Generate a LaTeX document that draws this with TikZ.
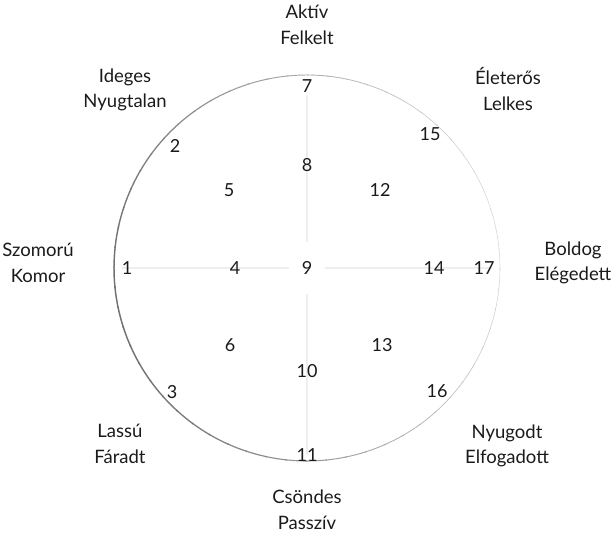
\documentclass[tikz,border=0pt]{standalone}
\usepackage{fontspec}
\setmainfont{Lato}
\usetikzlibrary{positioning,backgrounds}
\definecolor{axis}{HTML}{EEEEEE}
\definecolor{ink}{HTML}{1A1A1A}

\begin{document}
\begin{tikzpicture}[x=1pt, y=-1pt,
      num/.style={text=ink, font=\fontsize{18}{21}\selectfont, inner sep=1pt},
      mood/.style={text=ink, align=center, font=\fontsize{18.5}{25.5}\selectfont, inner sep=1pt},
      axisline/.style={draw=axis, line width=1.4pt}]
    \useasboundingbox (0,0) rectangle (614,535);
    % rim, darker on the upper left
    \foreach \a in {0,6,...,354} {
      \pgfmathsetmacro\k{36+20*cos(\a-165)}
      \pgfmathsetmacro\w{1.0+0.45*cos(\a-165)}
      \draw[black!\k, line width=\w pt] (307,268) ++(\a:193) arc[start angle=\a, end angle=\a+6.5, radius=193];
    }
    % numbers
    \node[num] (n7) at (307,86) {7};
    \node[num] (n8) at (307,165) {8};
    \node[num, minimum width=36pt, minimum height=52pt] (n9) at (307,268) {9};
    \node[num] (n10) at (307,371) {10};
    \node[num] (n11) at (307,455) {11};
    \node[num] (n1) at (127,268) {1};
    \node[num] (n4) at (235,268) {4};
    \node[num] (n14) at (434,268) {14};
    \node[num] (n17) at (484,268) {17};
    \node[num] (n2) at (175,146) {2};
    \node[num] (n5) at (229,190) {5};
    \node[num] (n12) at (380,190) {12};
    \node[num] (n15) at (430,134) {15};
    \node[num] (n6) at (230,345) {6};
    \node[num] (n13) at (382,345) {13};
    \node[num] (n3) at (172,392) {3};
    \node[num] (n16) at (437,391) {16};
    % axes
    \begin{pgfonlayer}{background}
      \draw[axisline] ([yshift=-9pt]n7.center) -- (n9);
      \draw[axisline] (n9) -- (n11.center);
      \draw[axisline] ([xshift=-5pt]n1.center) -- (n9);
      \draw[axisline] (n9) -- ([xshift=8pt]n17.center);
    \end{pgfonlayer}
    % moods
    \node[mood] (up) at (307,25) {Aktív\\Felkelt};
    \node[mood] (ul) at (125,90) {Ideges\\Nyugtalan};
    \node[mood] (ur) at (508,89) {Életerős\\Lelkes};
    \node[mood] (le) at (38,263) {Szomorú\\Komor};
    \node[mood] (ri) at (573,263) {Boldog\\Elégedett};
    \node[mood] (dl) at (120,444) {Lassú\\Fáradt};
    \node[mood] (dr) at (507,446) {Nyugodt\\Elfogadott};
    \node[mood] (dn) at (307,510) {Csöndes\\Passzív};
  \end{tikzpicture}
\end{document}
